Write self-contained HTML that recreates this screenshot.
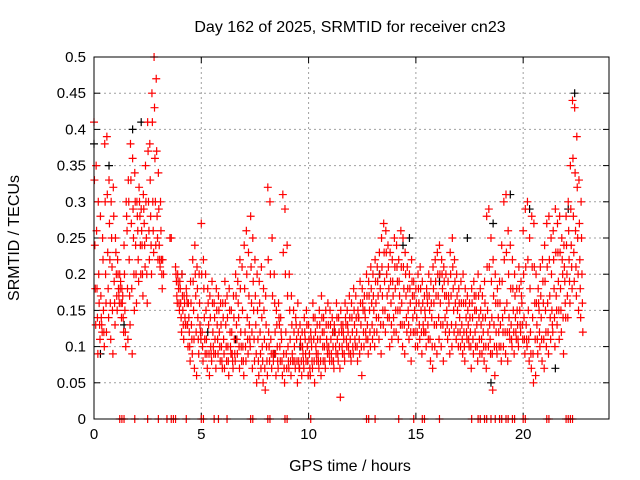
<!DOCTYPE html>
<html><head><meta charset="utf-8"><style>
html,body{margin:0;padding:0;background:#fff}
svg{display:block;font-family:"Liberation Sans",sans-serif}
</style></head><body>
<svg id="chart" width="640" height="480">
<rect width="640" height="480" fill="#fff"/>
<text x="350" y="32" font-size="16" text-anchor="middle">Day 162 of 2025, SRMTID for receiver cn23</text>
<g id="grid"></g><g id="axes"></g><g id="marks"></g>
<text x="350" y="471" font-size="16" text-anchor="middle">GPS time / hours</text>
<text transform="translate(19,238) rotate(-90)" font-size="16" text-anchor="middle">SRMTID / TECUs</text>
<rect x="94" y="57" width="515" height="362" fill="none" stroke="#000" stroke-width="1"/>
</svg>
<script>
const xTicks=[0,5,10,15,20];
const yTicks=[0,0.05,0.1,0.15,0.2,0.25,0.3,0.35,0.4,0.45,0.5];
const yTickLabels=["0","0.05","0.1","0.15","0.2","0.25","0.3","0.35","0.4","0.45","0.5"];
const slotStep=0.1;
const hiVals=[.41,.35,.30,.28,.25,.38,.39,.33,.30,.32,
.25,.22,.20,.18,.24,.30,.33,.38,.36,.34,
.30,.32,.29,.31,.35,.41,.38,.45,.50,.47,
.34,.30,.22,null,null,null,.25,null,.21,.20,
.19,.20,.17,.18,.16,.19,.22,.24,.21,.20,
.27,.22,.20,.18,.17,.19,.16,.18,.17,.16,
.16,.19,.17,.18,.15,.17,.20,.19,.22,.21,
.24,.26,.23,.28,.25,.22,.20,.19,.21,.18,
.17,.32,.30,.25,.20,.15,.16,.14,.31,.29,
.24,.20,.17,.15,.14,.16,.13,.12,.14,.15,
.13,.12,.16,.14,.13,.15,.17,.14,.15,.16,
.15,.14,.13,.16,.14,.15,.13,.16,.15,.17,
.16,.18,.17,.15,.19,.18,.17,.20,.19,.21,
.20,.22,.21,.23,.25,.27,.26,.24,.23,.22,
.25,.24,.22,.26,.25,.23,.21,.20,.22,.19,
.18,.20,.21,.19,.17,.18,.20,.19,.21,.22,
.23,.24,.22,.21,.20,.19,.23,.25,.22,.20,
.18,.19,.20,.18,.17,.16,.18,.19,.17,.20,
.18,.17,.19,.28,.29,.25,.22,.20,.18,.19,
.24,.30,.31,.26,.24,.22,.20,.18,.21,.19,
.26,.29,.30,.25,.28,.27,.20,.18,.21,.22,
.24,.27,.28,.25,.26,.29,.27,.28,.25,.24,
.28,.30,.35,.44,.43,.39,.33,.30];
const upperMidVals=[.33,.26,.20,.17,.22,.30,.31,.27,.25,.28,
.23,.20,.18,.16,.20,.28,.30,.33,.29,.30,
.28,.30,.26,.29,.30,.37,.33,.41,.43,.37,
.29,.26,null,null,null,null,null,null,.20,.19,
.18,.17,.16,.17,.14,.16,.19,.20,.18,.16,
.20,.18,.15,.16,.14,.16,.14,.15,.15,.13,
.14,.16,.14,.15,.12,.14,.17,.16,.18,.15,
.18,.20,.17,.21,.19,.17,.15,.16,.14,.15,
.13,.22,.20,.17,.16,.13,.14,.12,.23,.20,
.17,.15,.13,.12,.13,.12,.11,.10,.12,.13,
.11,.11,.14,.12,.11,.13,.14,.12,.13,.13,
.13,.12,.12,.14,.12,.13,.12,.14,.13,.14,
.14,.15,.14,.14,.16,.16,.15,.17,.17,.18,
.17,.19,.19,.20,.21,.23,.23,.21,.19,.19,
.21,.21,.19,.21,.21,.20,.18,.18,.19,.17,
.16,.18,.18,.16,.15,.17,.17,.16,.18,.19,
.20,.20,.20,.19,.17,.17,.20,.21,.19,.17,
.16,.16,.16,.16,.15,.14,.16,.17,.15,.17,
.15,.14,.16,.21,.21,.19,.17,.16,.16,.16,
.19,.22,.23,.20,.18,.18,.17,.15,.18,.17,
.20,.21,.22,.18,.21,.21,.16,.16,.17,.19,
.19,.21,.22,.20,.22,.23,.23,.23,.22,.21,
.24,.26,.29,.36,.34,.32,.27,.25];
const midVals=[.24,.18,.16,.14,.15,.20,.23,.22,.21,.19,
.20,.18,.19,.17,.15,.26,.22,.27,.25,.24,
.26,.28,.24,.27,.25,.30,.28,.30,.36,.28,
.24,.22,.20,null,null,.25,null,null,.19,.18,
.16,.15,.14,.16,.12,.13,.15,.17,.14,.13,
.12,.14,.11,.13,.10,.12,.11,.13,.12,.10,
.11,.13,.10,.12,.09,.11,.13,.14,.12,.10,
.12,.14,.13,.16,.15,.13,.11,.12,.10,.11,
.10,.12,.11,.09,.12,.10,.13,.11,.09,.12,
.10,.11,.09,.10,.11,.08,.10,.09,.11,.10,
.09,.10,.11,.10,.09,.11,.12,.10,.11,.10,
.11,.10,.12,.11,.10,.12,.11,.13,.12,.11,
.12,.13,.12,.14,.13,.15,.14,.13,.15,.16,
.15,.16,.17,.18,.17,.19,.20,.18,.16,.17,
.18,.19,.17,.16,.18,.17,.15,.16,.17,.15,
.14,.16,.15,.13,.14,.16,.15,.14,.16,.17,
.17,.16,.18,.17,.15,.16,.17,.18,.16,.15,
.14,.13,.12,.14,.13,.12,.14,.15,.13,.14,
.13,.12,.14,.15,.13,.14,.13,.12,.14,.13,
.14,.15,.16,.14,.13,.15,.14,.13,.15,.16,
.14,.13,.15,.12,.14,.16,.13,.15,.14,.16,
.15,.16,.17,.15,.18,.17,.19,.18,.20,.19,
.20,.22,.24,.28,.26,.25,.22,.20];
const lowerMidVals=[.18,.14,.13,.13,.12,.16,.18,.16,.15,.16,
.17,.17,.16,.14,.12,.18,.17,.18,.20,.20,
.22,.24,.20,.24,.20,.26,.24,.26,.30,.25,
.22,.20,null,null,null,null,null,null,.17,.16,
.14,.13,.13,.13,.10,.11,.11,.12,.11,.12,
.10,.11,.09,.09,.09,.10,.09,.11,.10,.08,
.09,.10,.08,.10,.08,.09,.11,.10,.10,.08,
.10,.11,.11,.12,.11,.09,.08,.09,.08,.07,
.08,.10,.09,.08,.09,.08,.10,.08,.07,.09,
.08,.08,.08,.08,.08,.07,.08,.08,.09,.08,
.07,.08,.08,.09,.08,.08,.10,.08,.10,.09,
.09,.08,.10,.09,.07,.10,.09,.11,.10,.09,
.10,.11,.10,.11,.10,.12,.12,.11,.12,.13,
.12,.14,.14,.13,.15,.15,.17,.14,.13,.14,
.15,.15,.15,.13,.13,.14,.13,.12,.14,.12,
.12,.13,.12,.12,.12,.13,.11,.10,.13,.13,
.14,.13,.13,.14,.13,.12,.13,.15,.13,.12,
.12,.11,.10,.12,.11,.10,.11,.12,.10,.11,
.11,.10,.10,.12,.11,.09,.10,.10,.12,.10,
.12,.12,.12,.12,.11,.12,.12,.11,.13,.13,
.11,.11,.11,.09,.09,.11,.11,.12,.11,.11,
.12,.12,.14,.13,.14,.15,.15,.15,.14,.16,
.17,.19,.21,.23,.21,.20,.18,.16];
const loVals=[.13,.09,.11,.12,.10,.12,.14,.11,.09,.13,
.15,.16,.14,.12,.10,.11,.13,.09,.15,.16,
.19,.20,.17,.21,.16,.22,.20,.23,.24,.22,
.21,.18,null,null,null,null,null,null,.16,.15,
.12,.11,.13,.10,.08,.09,.07,.06,.09,.11,
.08,.09,.07,.06,.08,.09,.07,.09,.08,.07,
.07,.08,.06,.09,.07,.08,.09,.07,.08,.06,
.08,.09,.10,.07,.08,.05,.06,.07,.05,.04,
.06,.08,.07,.09,.06,.07,.08,.06,.05,.07,
.07,.06,.08,.07,.05,.07,.06,.07,.08,.06,
.06,.07,.05,.08,.07,.06,.08,.07,.09,.08,
.08,.07,.09,.08,.03,.09,.08,.10,.09,.08,
.09,.10,.08,.09,.06,.10,.11,.09,.10,.11,
.10,.12,.11,.09,.13,.12,.14,.10,.11,.12,
.12,.11,.13,.10,.09,.12,.11,.08,.12,.10,
.10,.11,.09,.12,.10,.11,.08,.07,.10,.09,
.11,.10,.08,.12,.11,.09,.10,.12,.11,.10,
.10,.09,.08,.11,.10,.07,.09,.10,.08,.09,
.09,.08,.07,.10,.09,.04,.06,.09,.10,.08,
.10,.09,.08,.11,.10,.09,.11,.10,.12,.11,
.09,.10,.08,.07,.05,.06,.09,.10,.08,.07,
.10,.09,.11,.12,.10,.13,.11,.12,.09,.14,
.14,.16,.18,.19,.17,.15,.14,.12];
const blackTimes=[0.0,0.3,0.7,1.4,1.8,2.2,4.1,5.3,6.6,8.4,9.6,11.2,13.3,14.4,14.7,16.1,17.4,18.5,18.6,19.4,20.3,21.5,22.1,22.4];
const blackVals=[0.38,0.09,0.35,0.13,0.40,0.41,0.20,0.12,0.11,0.09,0.10,0.12,0.20,0.24,0.25,0.19,0.25,0.05,0.27,0.31,0.29,0.07,0.29,0.45];
const zeroTimes=[1.2,1.3,1.4,1.9,2.5,3.0,3.4,3.6,3.7,3.8,4.3,5.0,5.1,5.6,5.8,6.2,7.3,7.4,8.1,8.2,8.9,9.0,10.1,12.7,12.8,13.1,14.2,14.9,15.3,15.4,16.1,17.6,17.9,18.0,18.2,18.3,18.5,18.7,18.9,19.0,19.2,19.3,19.5,19.6,20.0,20.1,21.1,21.2,22.0,22.1,22.2,22.3];

const NS="http://www.w3.org/2000/svg";
const X0=94,X1=609,Y0=419,Y1=57;
function xs(t){return X0+(X1-X0)*t/24;}
function ys(v){return Y0-(Y0-Y1)*v/0.5;}
const grid=document.getElementById('grid'),axes=document.getElementById('axes'),marks=document.getElementById('marks');
function mk(tag,attrs,parent){const e=document.createElementNS(NS,tag);for(const k in attrs)e.setAttribute(k,attrs[k]);parent.appendChild(e);return e;}
xTicks.forEach(t=>{
  const x=xs(t);
  if(t>0){const g=mk('line',{x1:x,x2:x,y1:Y1,y2:Y0,stroke:'#a0a0a0','stroke-dasharray':'2,3'},grid);
  
  }
  mk('line',{x1:x,x2:x,y1:Y0,y2:Y0-6,stroke:'#000'},axes);
  mk('line',{x1:x,x2:x,y1:Y1,y2:Y1+6,stroke:'#000'},axes);
  const tx=mk('text',{x:x,y:Y0+20,'font-size':15,'text-anchor':'middle'},axes);
  tx.textContent=String(t);
  
  
});
yTicks.forEach((v,i)=>{
  const y=ys(v);
  if(v>0&&v<0.5){const g=mk('line',{x1:X0,x2:X1,y1:y,y2:y,stroke:'#a0a0a0','stroke-dasharray':'2,3'},grid);
  
  }
  mk('line',{x1:X0,x2:X0+6,y1:y,y2:y,stroke:'#000'},axes);
  mk('line',{x1:X1,x2:X1-6,y1:y,y2:y,stroke:'#000'},axes);
  const tx=mk('text',{x:X0-8,y:y+5,'font-size':15,'text-anchor':'end'},axes);
  tx.textContent=yTickLabels[i];
  
  
});
function plus(t,v,color,name){
  const x=xs(t),y=ys(v);
  const p=mk('path',{d:`M${x-4} ${y}h8M${x} ${y-4}v8`,stroke:color,'stroke-width':1.2,fill:'none'},marks);
  
  
}
blackTimes.forEach((t,i)=>plus(t,blackVals[i],'#000','black-point'));
[hiVals,upperMidVals,midVals,lowerMidVals,loVals].forEach((arr,k)=>{
  arr.forEach((v,i)=>{
    if(v===null)return;
    const t=i*slotStep+k*0.02;
    plus(t,v,'#ff0000','red-point');
  });
});
zeroTimes.forEach(t=>plus(t,0,'#ff0000','zero-point'));
</script>
</body></html>
